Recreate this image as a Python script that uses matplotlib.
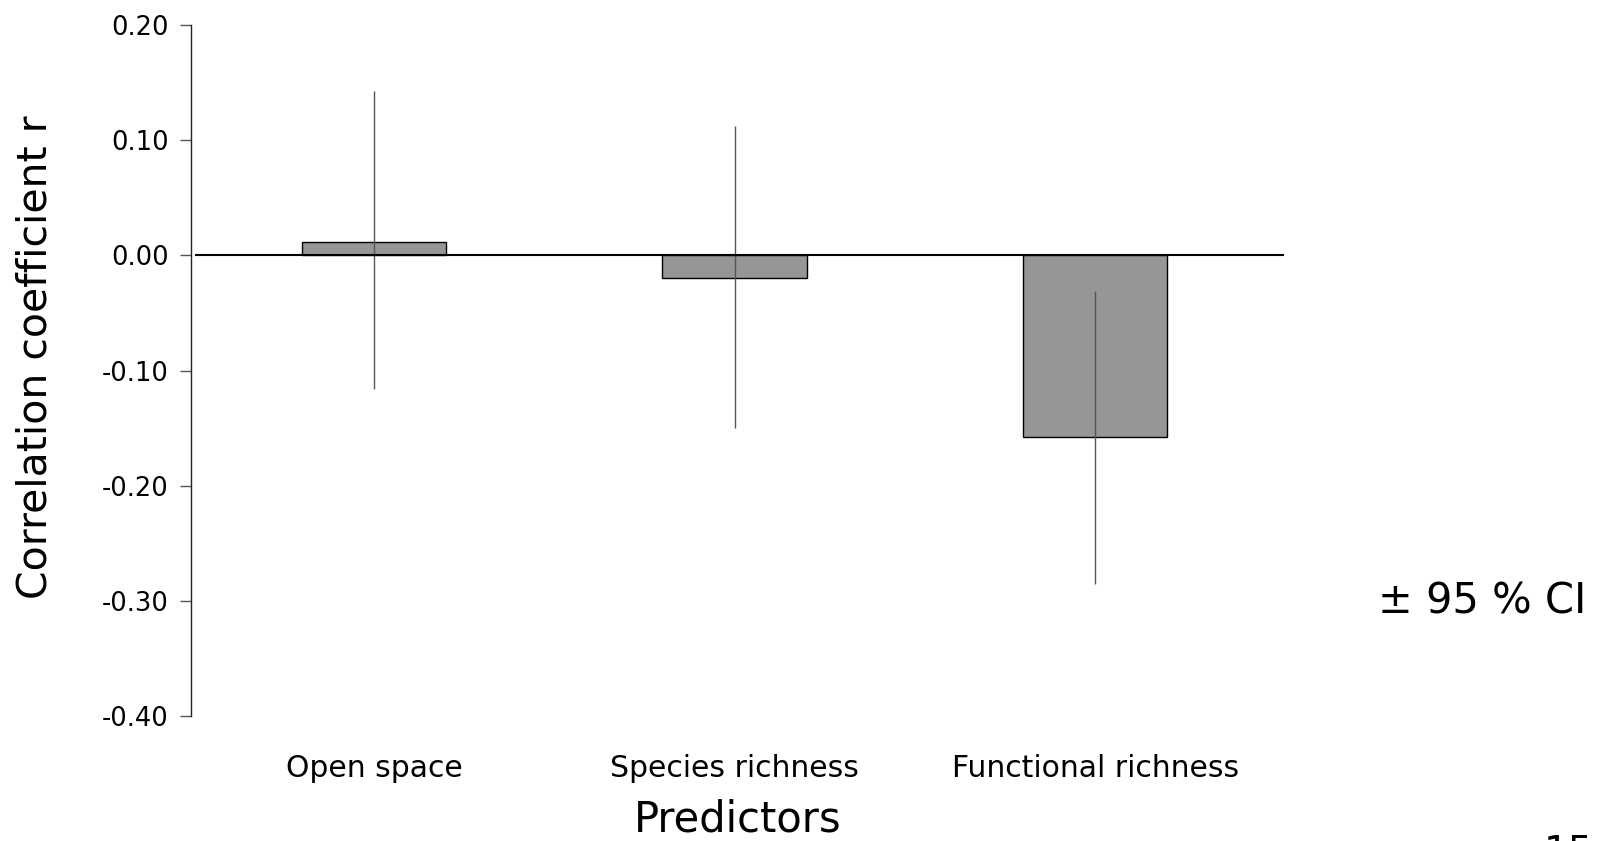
import matplotlib
matplotlib.use("Agg")
import matplotlib.pyplot as plt
import numpy as np

plt.rcParams["font.family"] = ["DejaVu Sans"]

# data
predictors = ["Open space", "Species richness", "Functional richness"]
r_values = [0.012, -0.020, -0.158]
ci_low = [-0.116, -0.150, -0.286]
ci_high = [0.143, 0.113, -0.031]
y_ticks = [0.20, 0.10, 0.00, -0.10, -0.20, -0.30, -0.40]

fig = plt.figure(figsize=(15.98, 8.41), dpi=100)
ax = fig.add_axes([0.1193, 0.1492, 0.6842, 0.8205])

x = np.arange(len(predictors))
ax.bar(x, r_values, width=0.4, color="#969696", edgecolor="black", linewidth=1.0, zorder=2)
ax.vlines(x, ci_low, ci_high, color="#555555", linewidth=1.0, zorder=3)
ax.axhline(0, color="black", linewidth=1.5, xmin=0.005, zorder=4)

ax.set_xlim(-0.508, 2.523)
ax.set_ylim(-0.40, 0.20)
ax.set_yticks(y_ticks)
ax.set_yticklabels(["%.2f" % t for t in y_ticks], fontsize=18.5)
ax.set_xticks(x)
ax.set_xticklabels(predictors, fontsize=21.5)

for s in ["top", "right", "bottom"]:
    ax.spines[s].set_visible(False)
ax.spines["left"].set_color("#222222")
ax.spines["left"].set_linewidth(1.0)
ax.tick_params(axis="y", length=8, width=1.0, color="#555555", pad=8)
ax.tick_params(axis="x", length=0, pad=28)

# axis titles placed as in the slide
fig.text(0.0223, 0.5755, "Correlation coefficient r", fontsize=29.5,
         rotation=90, va="center", ha="center")
ax.set_xlabel("Predictors", fontsize=30, labelpad=11)

fig.text(0.8625, 0.285, "\u00b1 95 % CI", fontsize=30, va="center", ha="left")
fig.text(0.966, 0.009, "15", fontsize=28, va="top", ha="left")

fig.savefig("out.png", dpi=100)
